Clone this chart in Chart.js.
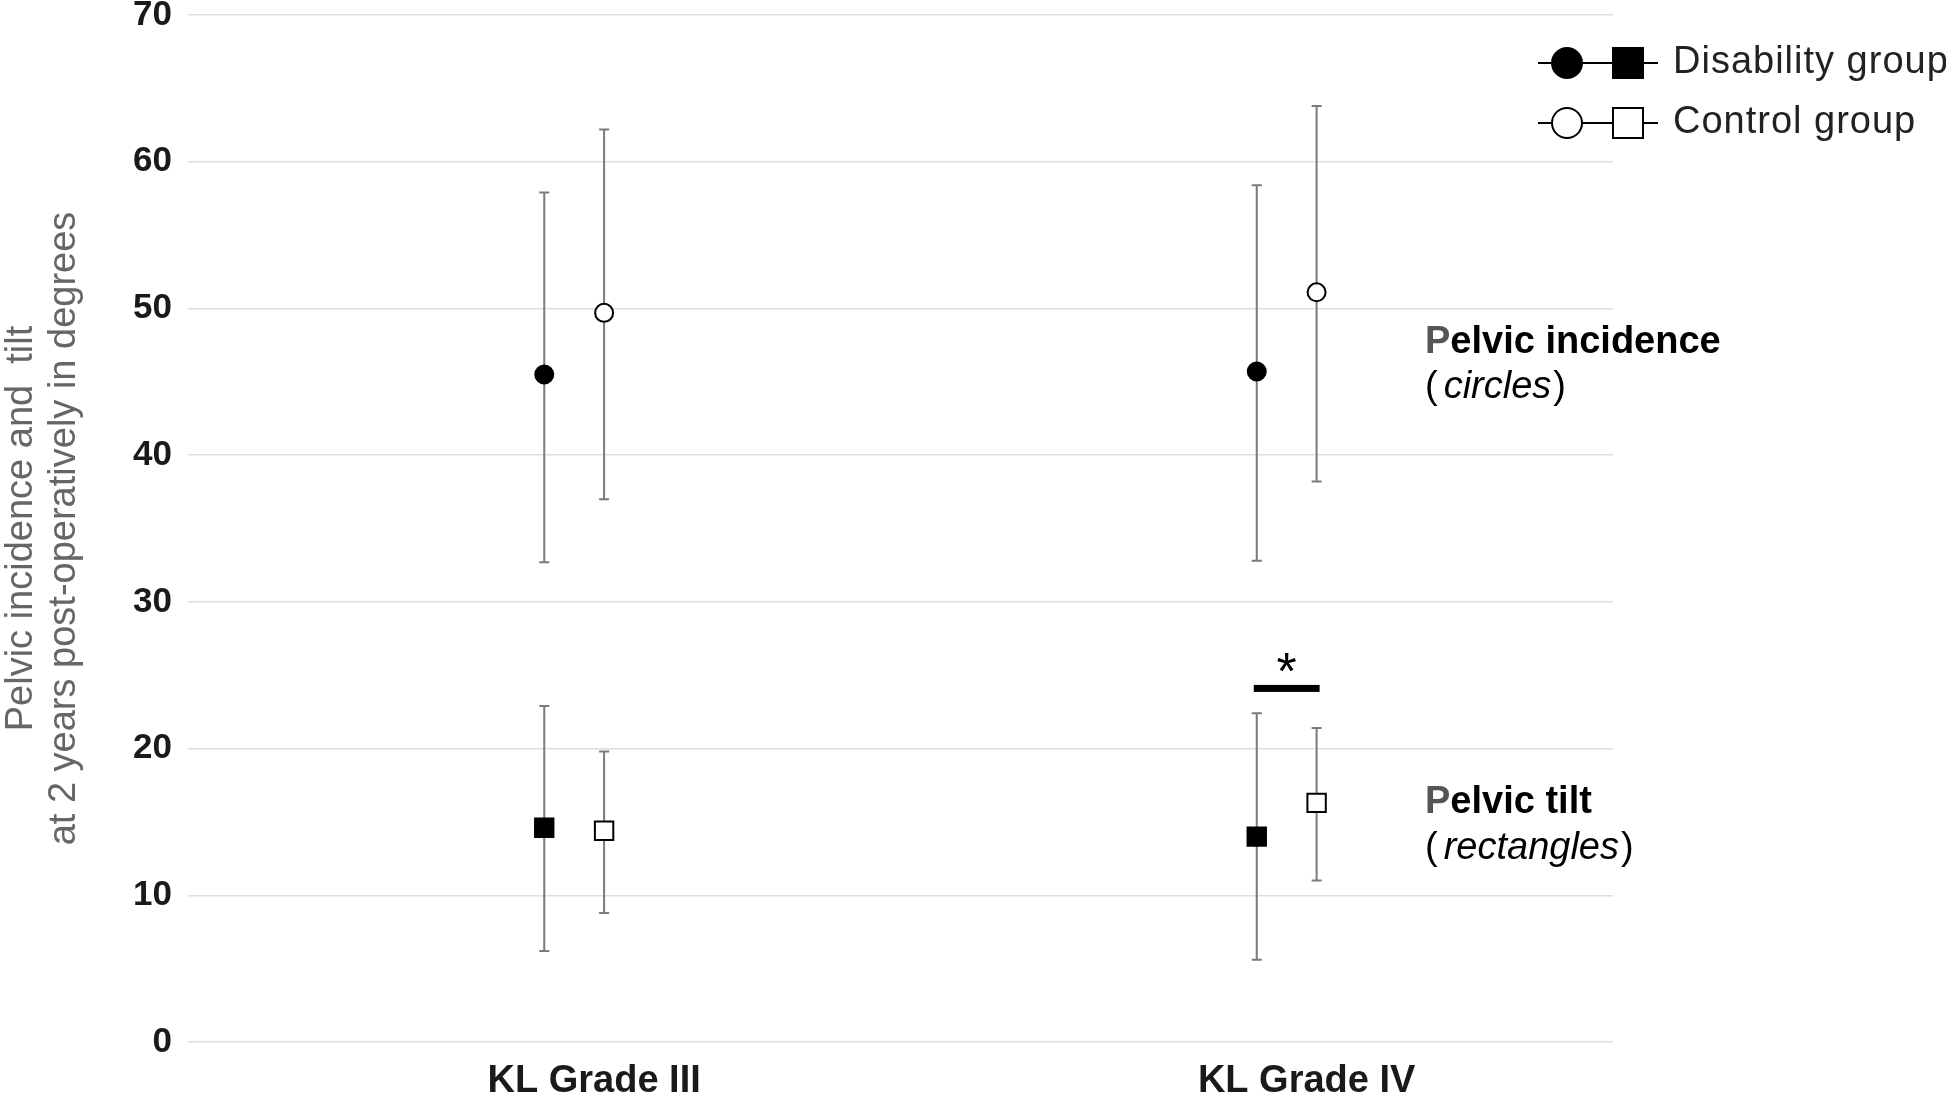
<!DOCTYPE html>
<html>
<head>
    <style>
        body {
            margin: 0;
            overflow: hidden;
            background: #fff;
        }
    </style>
    <script src="https://cdn.jsdelivr.net/npm/chart.js"></script>
</head>
<body>
    <canvas id="pelvicChart" width="1946" height="1093"></canvas>

    <script>
        // categories and values (degrees)
        const categories = ['KL Grade III', 'KL Grade IV'];
        const yTicks = [0, 10, 20, 30, 40, 50, 60, 70];

        // pelvic incidence (circles)
        const piDisMean = [45.5, 45.7];
        const piDisLow = [32.7, 32.8];
        const piDisHigh = [57.9, 58.4];
        const piCtrlMean = [49.7, 51.1];
        const piCtrlLow = [37.0, 38.2];
        const piCtrlHigh = [62.2, 63.8];

        // pelvic tilt (rectangles)
        const ptDisMean = [14.6, 14.0];
        const ptDisLow = [6.2, 5.6];
        const ptDisHigh = [22.9, 22.4];
        const ptCtrlMean = [14.4, 16.3];
        const ptCtrlLow = [8.8, 11.0];
        const ptCtrlHigh = [19.8, 21.4];

        // significance marker: KL Grade IV, pelvic tilt
        const sigCategory = 1;
        const sigLevel = 24.1;

        const FONT = "'Liberation Sans', Arial, sans-serif";
        const ctrlShift = 0.084;   // control marker sits a little to the right
        const labelShift = 0.07;

        const pts = (means, shift) => means.map((m, i) => ({ x: i + 0.5 + shift, y: m }));

        // vertical whiskers with caps, drawn behind the markers
        const errorBars = {
            id: 'errorBars',
            beforeDatasetsDraw(chart) {
                const ctx = chart.ctx;
                const y = chart.scales.y;
                ctx.save();
                ctx.strokeStyle = '#7a7a7a';
                ctx.lineWidth = 2;
                chart.data.datasets.forEach((ds, i) => {
                    chart.getDatasetMeta(i).data.forEach((pt, j) => {
                        const top = y.getPixelForValue(ds.errHigh[j]);
                        const bot = y.getPixelForValue(ds.errLow[j]);
                        ctx.beginPath();
                        ctx.moveTo(pt.x, top); ctx.lineTo(pt.x, bot);
                        ctx.moveTo(pt.x - 5, top); ctx.lineTo(pt.x + 5, top);
                        ctx.moveTo(pt.x - 5, bot); ctx.lineTo(pt.x + 5, bot);
                        ctx.stroke();
                    });
                });
                ctx.restore();
            }
        };

        function drawRuns(ctx, x, y, runs) {
            runs.forEach(r => {
                ctx.font = r.font;
                ctx.fillStyle = r.color || '#000';
                ctx.fillText(r.text, x, y);
                x += ctx.measureText(r.text).width + (r.gap || 0);
            });
        }

        // notes, significance bar and the legend
        const extras = {
            id: 'extras',
            afterDraw(chart) {
                const ctx = chart.ctx;
                const xs = chart.scales.x, ys = chart.scales.y;
                const area = chart.chartArea;
                ctx.save();
                ctx.textAlign = 'left';

                // significance bar
                const x1 = xs.getPixelForValue(sigCategory + 0.5);
                const x2 = xs.getPixelForValue(sigCategory + 0.5 + ctrlShift);
                const yb = ys.getPixelForValue(sigLevel);
                ctx.fillStyle = '#000';
                ctx.fillRect(x1 - 3, yb - 3.5, x2 - x1 + 6, 7);
                ctx.font = '52px ' + FONT;
                ctx.textAlign = 'center';
                ctx.textBaseline = 'alphabetic';
                ctx.fillText('*', (x1 + x2) / 2, yb + 1);
                ctx.textAlign = 'left';
                ctx.textBaseline = 'middle';

                // side notes
                const nx = area.right - 188;
                const bold = 'bold 38px ' + FONT;
                const reg = '38px ' + FONT;
                const ital = 'italic 38px ' + FONT;
                drawRuns(ctx, nx, ys.getPixelForValue(47.7), [
                    { text: 'P', font: bold, color: '#555' },
                    { text: 'elvic incidence', font: bold }
                ]);
                drawRuns(ctx, nx, ys.getPixelForValue(44.6), [
                    { text: '(', font: reg, gap: 6 },
                    { text: 'circles', font: ital, gap: 2 },
                    { text: ')', font: reg }
                ]);
                drawRuns(ctx, nx, ys.getPixelForValue(16.3), [
                    { text: 'P', font: bold, color: '#555' },
                    { text: 'elvic tilt', font: bold }
                ]);
                drawRuns(ctx, nx, ys.getPixelForValue(13.2), [
                    { text: '(', font: reg, gap: 6 },
                    { text: 'rectangles', font: ital, gap: 2 },
                    { text: ')', font: reg }
                ]);

                // legend
                const rows = [
                    { label: 'Disability group', fill: '#000', y: 63 },
                    { label: 'Control group', fill: '#fff', y: 123 }
                ];
                rows.forEach(r => {
                    ctx.strokeStyle = '#000';
                    ctx.lineWidth = 2;
                    ctx.beginPath();
                    ctx.moveTo(1538, r.y); ctx.lineTo(1658, r.y);
                    ctx.stroke();
                    ctx.fillStyle = r.fill;
                    ctx.beginPath();
                    ctx.arc(1567, r.y, 15, 0, Math.PI * 2);
                    ctx.fill(); ctx.stroke();
                    ctx.fillRect(1613, r.y - 15, 30, 30);
                    ctx.strokeRect(1613, r.y - 15, 30, 30);
                    ctx.fillStyle = '#222';
                    ctx.font = '38px ' + FONT;
                    ctx.letterSpacing = '1px';
                    ctx.fillText(r.label, 1673, r.y);
                    ctx.letterSpacing = '0px';
                });
                ctx.restore();
            }
        };

        new Chart(document.getElementById('pelvicChart'), {
            type: 'scatter',
            data: {
                datasets: [
                    { label: 'Disability PI', data: pts(piDisMean, 0), errLow: piDisLow, errHigh: piDisHigh,
                      pointStyle: 'circle', pointRadius: 9, backgroundColor: '#000', borderColor: '#000', borderWidth: 2 },
                    { label: 'Control PI', data: pts(piCtrlMean, ctrlShift), errLow: piCtrlLow, errHigh: piCtrlHigh,
                      pointStyle: 'circle', pointRadius: 9, backgroundColor: '#fff', borderColor: '#000', borderWidth: 2 },
                    { label: 'Disability PT', data: pts(ptDisMean, 0), errLow: ptDisLow, errHigh: ptDisHigh,
                      pointStyle: 'rect', pointRadius: 13, backgroundColor: '#000', borderColor: '#000', borderWidth: 2 },
                    { label: 'Control PT', data: pts(ptCtrlMean, ctrlShift), errLow: ptCtrlLow, errHigh: ptCtrlHigh,
                      pointStyle: 'rect', pointRadius: 13, backgroundColor: '#fff', borderColor: '#000', borderWidth: 2 }
                ]
            },
            options: {
                responsive: false,
                animation: false,
                events: [],
                layout: { padding: { top: 11, right: 333, bottom: 0, left: 0 } },
                plugins: {
                    legend: { display: false },
                    tooltip: { enabled: false }
                },
                scales: {
                    x: {
                        type: 'linear',
                        min: 0,
                        max: categories.length,
                        grid: { display: false },
                        border: { display: false },
                        afterBuildTicks: s => { s.ticks = categories.map((c, i) => ({ value: i + 0.5 + labelShift })); },
                        afterFit: s => { s.height = 51; s.paddingLeft = 0; s.paddingRight = 0; },
                        ticks: {
                            autoSkip: false,
                            maxRotation: 0,
                            padding: 9,
                            color: '#1a1a1a',
                            font: { family: FONT, size: 38, weight: 'bold' },
                            callback: (v, i) => categories[i]
                        }
                    },
                    y: {
                        min: 0,
                        max: 70,
                        afterBuildTicks: s => { s.ticks = yTicks.map(v => ({ value: v })); },
                        afterFit: s => { s.width = 188; s.paddingTop = 0; s.paddingBottom = 0; },
                        grid: { color: '#dedede', lineWidth: 1.5, drawTicks: false },
                        border: { display: false },
                        ticks: {
                            padding: 16,
                            color: '#1a1a1a',
                            font: { family: FONT, size: 35, weight: 'bold' }
                        },
                        title: {
                            display: true,
                            text: ['Pelvic incidence and  tilt', 'at 2 years post-operatively in degrees'],
                            color: '#666',
                            padding: 0,
                            font: { family: FONT, size: 38, lineHeight: 1.13 }
                        }
                    }
                }
            },
            plugins: [errorBars, extras]
        });
    </script>
</body>
</html>
